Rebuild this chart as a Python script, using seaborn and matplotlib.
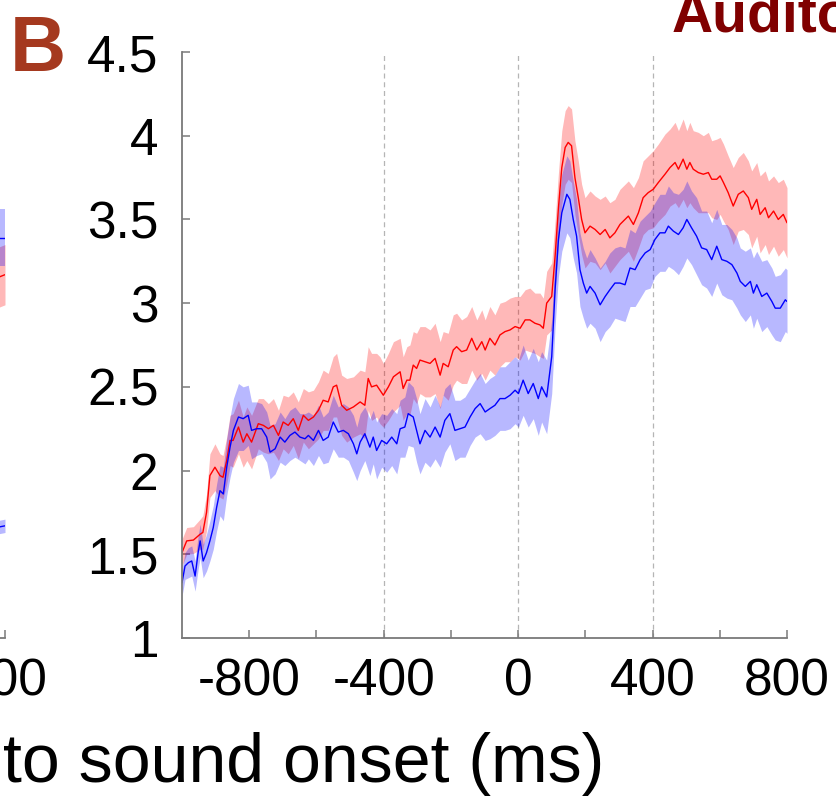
import seaborn as sns
import matplotlib.pyplot as plt
import pandas as pd
import numpy as np

sns.set_theme(style='white')
plt.rcParams['font.family'] = ['Liberation Sans', 'DejaVu Sans']

# time (ms) and mean / sem for the two traces of panel B
red_t = [-1000, -986, -966, -946, -938, -927, -917, -902, -887, -878,
         -867, -857, -848, -832, -818, -807, -793, -773, -758, -743,
         -728, -713, -699, -684, -669, -654, -639, -624, -609, -594,
         -580, -565, -550, -540, -525, -510, -490, -470, -456, -446,
         -436, -421, -411, -401, -386, -371, -351, -342, -331, -322,
         -312, -302, -292, -277, -262, -247, -232, -223, -208, -193,
         -183, -168, -153, -138, -123, -108, -98, -84, -69, -54,
         -39, -24, -9, 6, 21, 35, 50, 65, 75, 85,
         100, 110, 120, 130, 140, 149, 159, 169, 179, 189,
         199, 214, 229, 244, 259, 273, 288, 303, 318, 328,
         343, 358, 372, 387, 402, 417, 437, 452, 467, 477,
         491, 502, 511, 521, 536, 551, 566, 576, 591, 601,
         611, 625, 640, 655, 670, 685, 695, 710, 720, 735,
         745, 760, 774, 789, 800]
red_mean = [1.51, 1.58, 1.585, 1.62, 1.63, 1.75, 1.97, 2.02, 1.97, 1.96,
            2.06, 2.18, 2.18, 2.26, 2.17, 2.22, 2.17, 2.28, 2.27, 2.25,
            2.27, 2.21, 2.29, 2.27, 2.31, 2.24, 2.33, 2.30, 2.32, 2.36,
            2.42, 2.41, 2.50, 2.51, 2.39, 2.36, 2.38, 2.41, 2.39, 2.55,
            2.50, 2.51, 2.48, 2.45, 2.50, 2.56, 2.59, 2.49, 2.54, 2.54,
            2.63, 2.61, 2.66, 2.65, 2.64, 2.67, 2.57, 2.64, 2.62, 2.72,
            2.74, 2.71, 2.72, 2.79, 2.72, 2.77, 2.72, 2.79, 2.75, 2.81,
            2.83, 2.84, 2.86, 2.85, 2.90, 2.90, 2.88, 2.87, 2.85, 3.00,
            3.04, 3.28, 3.57, 3.81, 3.93, 3.96, 3.94, 3.75, 3.63, 3.50,
            3.42, 3.46, 3.44, 3.41, 3.44, 3.39, 3.42, 3.47, 3.50, 3.52,
            3.47, 3.54, 3.63, 3.66, 3.68, 3.72, 3.77, 3.81, 3.84, 3.80,
            3.86, 3.80, 3.84, 3.80, 3.78, 3.77, 3.78, 3.74, 3.74, 3.76,
            3.72, 3.66, 3.58, 3.65, 3.67, 3.63, 3.56, 3.62, 3.53, 3.57,
            3.51, 3.55, 3.50, 3.53, 3.48]
red_sem = [0.08, 0.08, 0.08, 0.09, 0.10, 0.11, 0.13, 0.14, 0.13, 0.13,
           0.14, 0.15, 0.16, 0.16, 0.15, 0.16, 0.16, 0.15, 0.16, 0.15,
           0.16, 0.15, 0.16, 0.17, 0.16, 0.17, 0.16, 0.17, 0.16, 0.17,
           0.18, 0.17, 0.18, 0.19, 0.18, 0.19, 0.18, 0.19, 0.20, 0.19,
           0.20, 0.19, 0.20, 0.19, 0.20, 0.21, 0.20, 0.19, 0.20, 0.21,
           0.20, 0.21, 0.20, 0.21, 0.20, 0.21, 0.20, 0.19, 0.20, 0.21,
           0.20, 0.19, 0.20, 0.19, 0.18, 0.19, 0.18, 0.19, 0.18, 0.19,
           0.18, 0.19, 0.18, 0.19, 0.18, 0.19, 0.18, 0.19, 0.18, 0.19,
           0.20, 0.21, 0.21, 0.22, 0.22, 0.22, 0.22, 0.22, 0.22, 0.21,
           0.21, 0.21, 0.20, 0.21, 0.20, 0.21, 0.20, 0.21, 0.21, 0.21,
           0.22, 0.21, 0.22, 0.22, 0.23, 0.23, 0.24, 0.23, 0.24, 0.23,
           0.24, 0.23, 0.24, 0.23, 0.24, 0.23, 0.24, 0.23, 0.24, 0.23,
           0.23, 0.22, 0.23, 0.22, 0.23, 0.22, 0.23, 0.22, 0.23, 0.22,
           0.22, 0.21, 0.22, 0.21, 0.21]

blue_t = [-1000, -991, -981, -971, -961, -952, -946, -937, -927, -917,
          -907, -897, -887, -877, -867, -857, -847, -832, -818, -803,
          -793, -778, -763, -748, -738, -723, -708, -694, -679, -664,
          -649, -634, -624, -609, -594, -580, -565, -550, -535, -520,
          -505, -490, -480, -470, -456, -441, -431, -421, -406, -391,
          -376, -361, -351, -337, -327, -312, -302, -292, -277, -262,
          -247, -232, -218, -203, -188, -173, -158, -143, -128, -113,
          -98, -84, -69, -54, -39, -24, -9, 1, 15, 30,
          45, 60, 70, 85, 100, 110, 120, 130, 145, 154,
          164, 174, 184, 194, 204, 214, 229, 244, 259, 273,
          288, 303, 318, 333, 348, 363, 378, 393, 407, 422,
          437, 447, 462, 477, 491, 502, 516, 531, 546, 561,
          576, 591, 606, 621, 636, 651, 661, 676, 691, 700,
          710, 725, 740, 755, 765, 780, 795, 800]
blue_mean = [1.33, 1.43, 1.45, 1.46, 1.37, 1.51, 1.58, 1.46, 1.51, 1.58,
             1.66, 1.78, 1.88, 1.86, 2.02, 2.14, 2.24, 2.32, 2.31, 2.33,
             2.24, 2.25, 2.25, 2.20, 2.11, 2.13, 2.20, 2.17, 2.21, 2.23,
             2.20, 2.19, 2.21, 2.18, 2.24, 2.18, 2.20, 2.29, 2.23, 2.24,
             2.22, 2.16, 2.10, 2.17, 2.22, 2.14, 2.20, 2.12, 2.18, 2.16,
             2.20, 2.16, 2.25, 2.26, 2.34, 2.32, 2.24, 2.16, 2.24, 2.20,
             2.26, 2.20, 2.30, 2.34, 2.24, 2.25, 2.26, 2.32, 2.37, 2.40,
             2.35, 2.37, 2.39, 2.43, 2.43, 2.45, 2.48, 2.46, 2.54, 2.46,
             2.52, 2.43, 2.50, 2.44, 2.68, 3.08, 3.38, 3.54, 3.65, 3.62,
             3.50, 3.40, 3.20, 3.12, 3.06, 3.10, 3.06, 2.99, 3.04, 3.08,
             3.12, 3.12, 3.11, 3.21, 3.20, 3.26, 3.30, 3.32, 3.38, 3.42,
             3.42, 3.46, 3.43, 3.41, 3.45, 3.50, 3.45, 3.40, 3.33, 3.32,
             3.26, 3.34, 3.26, 3.25, 3.23, 3.18, 3.13, 3.10, 3.13, 3.06,
             3.11, 3.04, 3.06, 3.01, 2.97, 2.97, 3.02, 3.01]
blue_sem = [0.08, 0.08, 0.09, 0.09, 0.09, 0.10, 0.10, 0.10, 0.11, 0.12,
            0.13, 0.14, 0.15, 0.16, 0.17, 0.18, 0.19, 0.20, 0.19, 0.18,
            0.17, 0.16, 0.15, 0.15, 0.16, 0.15, 0.15, 0.14, 0.15, 0.15,
            0.14, 0.15, 0.14, 0.15, 0.15, 0.14, 0.15, 0.16, 0.15, 0.16,
            0.16, 0.17, 0.16, 0.17, 0.16, 0.17, 0.16, 0.17, 0.16, 0.17,
            0.17, 0.18, 0.17, 0.18, 0.19, 0.18, 0.19, 0.18, 0.19, 0.18,
            0.19, 0.18, 0.19, 0.18, 0.18, 0.17, 0.18, 0.17, 0.17, 0.18,
            0.17, 0.18, 0.18, 0.19, 0.19, 0.20, 0.20, 0.20, 0.21, 0.20,
            0.21, 0.22, 0.21, 0.22, 0.22, 0.22, 0.22, 0.23, 0.23, 0.23,
            0.23, 0.22, 0.22, 0.21, 0.21, 0.22, 0.21, 0.22, 0.21, 0.22,
            0.21, 0.22, 0.22, 0.23, 0.22, 0.23, 0.22, 0.23, 0.22, 0.23,
            0.23, 0.24, 0.23, 0.24, 0.23, 0.23, 0.22, 0.23, 0.22, 0.23,
            0.22, 0.22, 0.21, 0.22, 0.21, 0.21, 0.20, 0.21, 0.20, 0.21,
            0.20, 0.21, 0.20, 0.20, 0.19, 0.20, 0.19, 0.19]

# the tail end of panel A, cut by the left edge
left_t = [775, 800]
left_red = [3.15, 3.17]
left_red_sem = [0.18, 0.18]
left_blue = [3.39, 3.39]
left_blue_sem = [0.17, 0.17]
left_blue2 = [1.66, 1.67]
left_blue2_sem = [0.04, 0.04]

x_ticks = [-800, -600, -400, -200, 0, 200, 400, 600, 800]
x_labels = ['-800', '', '-400', '', '0', '', '400', '', '800']
left_x_labels = ['', '', '', '', '', '', '', '', '800']
y_ticks = [1, 1.5, 2, 2.5, 3, 3.5, 4, 4.5]
y_labels = ['1', '1.5', '2', '2.5', '3', '3.5', '4', '4.5']
grid_t = [-400, 0, 400]

palette = {'red': '#ff0000', 'blue': '#0000ff', 'blue2': '#0000ff'}


def long_frame(t, mean, sem, name):
    t = np.asarray(t, dtype=float)
    m = np.asarray(mean, dtype=float)
    s = np.asarray(sem, dtype=float)
    # mean-sem, mean, mean+sem -> seaborn's mean and min/max band
    return pd.DataFrame({'t': np.tile(t, 3),
                         'v': np.concatenate([m - s, m, m + s]),
                         'cond': name})


def style_axes(ax, xlabels, ylabels):
    ax.set_xlim(-1000, 800)
    ax.set_ylim(1, 4.5)
    for side in ['top', 'right']:
        ax.spines[side].set_visible(False)
    for side in ['left', 'bottom']:
        ax.spines[side].set_color('#7a7a7a')
        ax.spines[side].set_linewidth(1.3)
    ax.set_xticks(x_ticks)
    ax.set_xticklabels(xlabels)
    ax.set_yticks(y_ticks)
    ax.set_yticklabels(ylabels)
    ax.tick_params(direction='in', length=6, width=1.1, color='#7a7a7a',
                   labelcolor='black', labelsize=37)
    ax.tick_params(axis='x', pad=14, bottom=True)
    ax.tick_params(axis='y', pad=17, left=True)
    ax.set_xlabel('')
    ax.set_ylabel('')


W, H = 836, 797
fig = plt.figure(figsize=(W / 100, H / 100), dpi=100)
ax_w = 605 / W
ax_b = 1 - 638 / H
ax_h = (638 - 52) / H

# partial panel A
ax0 = fig.add_axes([(5 - 605) / W, ax_b, ax_w, ax_h])
left_df = pd.concat([long_frame(left_t, left_red, left_red_sem, 'red'),
                     long_frame(left_t, left_blue, left_blue_sem, 'blue'),
                     long_frame(left_t, left_blue2, left_blue2_sem, 'blue2')])
sns.lineplot(data=left_df, x='t', y='v', hue='cond', palette=palette,
             estimator='mean', errorbar=('pi', 100),
             err_kws={'alpha': 0.28, 'linewidth': 0},
             linewidth=1.0, legend=False, ax=ax0)
style_axes(ax0, left_x_labels, [''] * len(y_ticks))
ax0.spines['left'].set_visible(False)

# panel B
ax = fig.add_axes([182 / W, ax_b, ax_w, ax_h])
for t in grid_t:
    ax.axvline(t, color='#b5b5b5', linestyle=(0, (4, 3)), linewidth=0.9, zorder=0)
df = pd.concat([long_frame(red_t, red_mean, red_sem, 'red'),
                long_frame(blue_t, blue_mean, blue_sem, 'blue')])
sns.lineplot(data=df, x='t', y='v', hue='cond', palette=palette,
             estimator='mean', errorbar=('pi', 100),
             err_kws={'alpha': 0.28, 'linewidth': 0},
             linewidth=1.0, legend=False, ax=ax)
style_axes(ax, x_labels, y_labels)

fig.text(10 / W, 1 - 71 / H, 'B', fontsize=56, fontweight='bold',
         color='#a5391f', ha='left', va='baseline')
fig.text(672 / W, 1 - 32 / H, 'Auditory', fontsize=41, fontweight='bold',
         color='#800000', ha='left', va='baseline')
fig.text(3 / W, 15 / H, 'to sound onset (ms)', fontsize=49,
         color='black', ha='left', va='baseline')

fig.savefig('out.png', dpi=100)
